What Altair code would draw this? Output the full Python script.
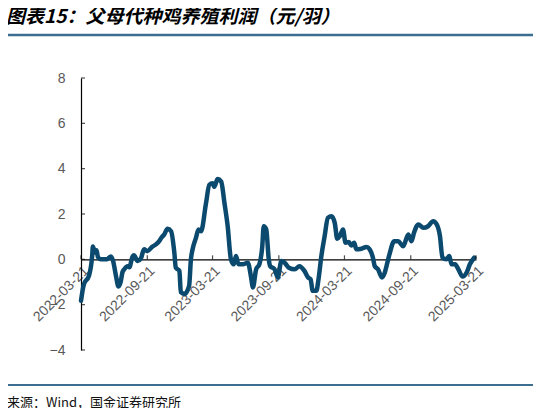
import altair as alt
import pandas as pd

# --- data (元/羽) ---
dates = [
    "2022-03-21", "2022-03-29", "2022-04-12", "2022-04-21", "2022-04-23", "2022-04-29",
    "2022-05-03", "2022-05-07", "2022-05-15", "2022-06-01", "2022-06-12", "2022-06-18",
    "2022-06-26", "2022-07-03", "2022-07-09", "2022-07-14", "2022-07-19", "2022-07-28",
    "2022-08-02", "2022-08-11", "2022-08-15", "2022-08-25", "2022-09-03", "2022-09-12",
    "2022-09-21", "2022-10-05", "2022-10-15", "2022-10-24", "2022-10-30", "2022-11-07",
    "2022-11-16", "2022-11-26", "2022-12-05", "2022-12-09", "2022-12-19", "2022-12-23",
    "2023-01-02", "2023-01-15", "2023-01-20", "2023-01-24", "2023-02-03", "2023-02-10",
    "2023-02-17", "2023-03-03", "2023-03-12", "2023-03-21", "2023-03-26", "2023-04-04",
    "2023-04-14", "2023-04-23", "2023-05-02", "2023-05-11", "2023-05-19", "2023-05-25",
    "2023-06-01", "2023-06-13", "2023-06-27", "2023-07-06", "2023-07-11", "2023-07-20",
    "2023-07-29", "2023-08-06", "2023-08-10", "2023-08-17", "2023-08-24", "2023-08-28",
    "2023-09-09", "2023-09-18", "2023-09-28", "2023-10-07", "2023-10-19", "2023-11-04",
    "2023-11-17", "2023-12-01", "2023-12-11", "2023-12-18", "2023-12-24", "2024-01-03",
    "2024-01-09", "2024-01-17", "2024-01-26", "2024-02-04", "2024-02-14", "2024-02-23",
    "2024-03-01", "2024-03-08", "2024-03-17", "2024-03-24", "2024-04-02", "2024-04-09",
    "2024-04-17", "2024-04-23", "2024-05-07", "2024-05-21", "2024-05-30", "2024-06-08",
    "2024-06-13", "2024-06-22", "2024-07-03", "2024-07-11", "2024-07-18", "2024-07-25",
    "2024-08-06", "2024-08-17", "2024-08-31", "2024-09-14", "2024-09-23", "2024-09-30",
    "2024-10-12", "2024-10-26", "2024-11-08", "2024-11-22", "2024-12-02", "2024-12-11",
    "2024-12-18", "2024-12-29", "2025-01-06", "2025-01-12", "2025-01-22", "2025-01-31",
    "2025-02-12", "2025-02-23", "2025-03-04", "2025-03-16",
]
profit = [
    -1.83, -1.10, -0.73, 0.15, 0.57, 0.30,
    0.40, 0.10, 0.00, 0.00, 0.13, -0.07,
    -0.73, -1.20, -1.00, -0.57, -0.44, -0.30,
    -0.35, 0.12, 0.18, -0.07, 0.03, 0.44,
    0.36, 0.56, 0.66, 0.80, 0.95, 1.10,
    1.35, 1.24, 0.29, -0.37, -0.51, -1.45,
    -1.53, -1.17, 0.00, 0.40, 0.95, 1.32,
    1.24, 2.49, 3.29, 3.36, 3.20, 3.54,
    3.43, 2.49, 1.46, 0.00, -0.22, 0.15,
    -0.22, -0.22, -0.15, -0.80, -1.24, -0.44,
    -0.22, 0.58, 1.46, 1.32, 0.00, -0.30,
    -0.44, -0.80, -0.07, -0.15, -0.37, -0.44,
    -0.30, -0.51, -0.80, -0.88, -1.39, -1.39,
    -0.88, 0.15, 1.02, 1.83, 1.90, 1.61,
    0.91, 1.02, 1.32, 0.73, 0.76, 0.61,
    0.73, 0.44, 0.47, 0.54, 0.44, 0.07,
    -0.30, -0.44, -0.80, -0.58, -0.15, 0.29,
    0.80, 0.80, 0.58, 1.10, 0.80, 1.17,
    1.54, 1.39, 1.46, 1.68, 1.54, 1.02,
    0.07, 0.00, 0.15, -0.22, -0.22, -0.44,
    -0.76, -0.58, -0.22, 0.07,
]
x_ticks = ["2022-03-21", "2022-09-21", "2023-03-21", "2023-09-21",
           "2024-03-21", "2024-09-21", "2025-03-21"]
y_ticks = [-4, -2, 0, 2, 4, 6, 8]

title_text = "图表15：父母代种鸡养殖利润（元/羽）"
source_text = "来源：Wind，国金证券研究所"

# --- sizes ---
W, H = 395, 272
Y_MIN, Y_MAX = -4, 8
zero_offset = -H * (0 - Y_MIN) / (Y_MAX - Y_MIN)   # move x axis up to y=0

LINE_COLOR = "#0b4a6e"
RULE_COLOR = "#3b6e8f"
LABEL_COLOR = "#595959"


def to_dt(s):
    y, m, d = (int(v) for v in s.split("-"))
    return alt.DateTime(year=y, month=m, date=d, utc=True)


df = pd.DataFrame({"date": dates, "profit": profit})
df_xt = pd.DataFrame({"date": x_ticks})
df_yt = pd.DataFrame({"v": y_ticks})
one = pd.DataFrame({"k": [0]})   # single row for decorations

x_scale = alt.Scale(type="utc", domain=[to_dt(x_ticks[0]), to_dt(x_ticks[-1])])
y_scale = alt.Scale(domain=[Y_MIN, Y_MAX], nice=False, zero=False)

line = alt.Chart(df).mark_line(
    color=LINE_COLOR, strokeWidth=4.5, interpolate="monotone",
    strokeJoin="round", strokeCap="round"
).encode(
    x=alt.X("date:T", scale=x_scale, title=None,
            axis=alt.Axis(values=[to_dt(t) for t in x_ticks],
                          labelExpr="utcFormat(datum.value, '%Y-%m-%d')",
                          labelAngle=-45, labelFontSize=14,
                          labelColor=LABEL_COLOR, labelFont="Liberation Sans",
                          ticks=False, domainColor="black", domainWidth=1.2,
                          offset=zero_offset, labelPadding=4, grid=False,
                          labelOverlap=False)),
    y=alt.Y("profit:Q", scale=y_scale, title=None,
            axis=alt.Axis(values=y_ticks, labelFontSize=14, labelColor=LABEL_COLOR,
                          labelFont="Liberation Sans", ticks=False, domainColor="black",
                          domainWidth=1.2, labelPadding=16, grid=False)),
)

# inward ticks (upwards on the x axis, rightwards on the y axis)
x_tick_marks = alt.Chart(df_xt).mark_tick(
    orient="vertical", size=4, thickness=1.2, color="black", yOffset=-2
).encode(x=alt.X("date:T", scale=x_scale), y=alt.datum(0, scale=y_scale))

y_tick_marks = alt.Chart(df_yt).mark_tick(
    orient="horizontal", size=4, thickness=1.2, color="black"
).encode(y=alt.Y("v:Q", scale=y_scale), x=alt.value(2))

# header / footer decorations
title = alt.Chart(one).mark_text(
    text=title_text, align="left", baseline="middle", fontSize=19,
    font="Noto Sans CJK SC", fontStyle="italic", fontWeight="bold", color="black"
).encode(x=alt.value(-75), y=alt.value(-61))
top_rule = alt.Chart(one).mark_rule(color=RULE_COLOR, strokeWidth=2.5).encode(
    x=alt.value(-77), x2=alt.value(456), y=alt.value(-43)
)
bottom_rule = alt.Chart(one).mark_rule(color=RULE_COLOR, strokeWidth=2).encode(
    x=alt.value(-77), x2=alt.value(456), y=alt.value(307)
)
source = alt.Chart(one).mark_text(
    text=source_text, align="left", baseline="middle", fontSize=13,
    font="Noto Sans CJK SC", fontWeight="normal", color="#111111"
).encode(x=alt.value(-74), y=alt.value(325))

chart = alt.layer(
    line, x_tick_marks, y_tick_marks, title, top_rule, bottom_rule, source
).properties(
    width=W,
    height=H,
    autosize=alt.AutoSizeParams(type="none"),
    padding={"left": 73, "top": 70, "right": 57, "bottom": 58},
).configure_view(stroke=None)

chart.save("out.html", embed_options={"renderer": "svg", "actions": False})
